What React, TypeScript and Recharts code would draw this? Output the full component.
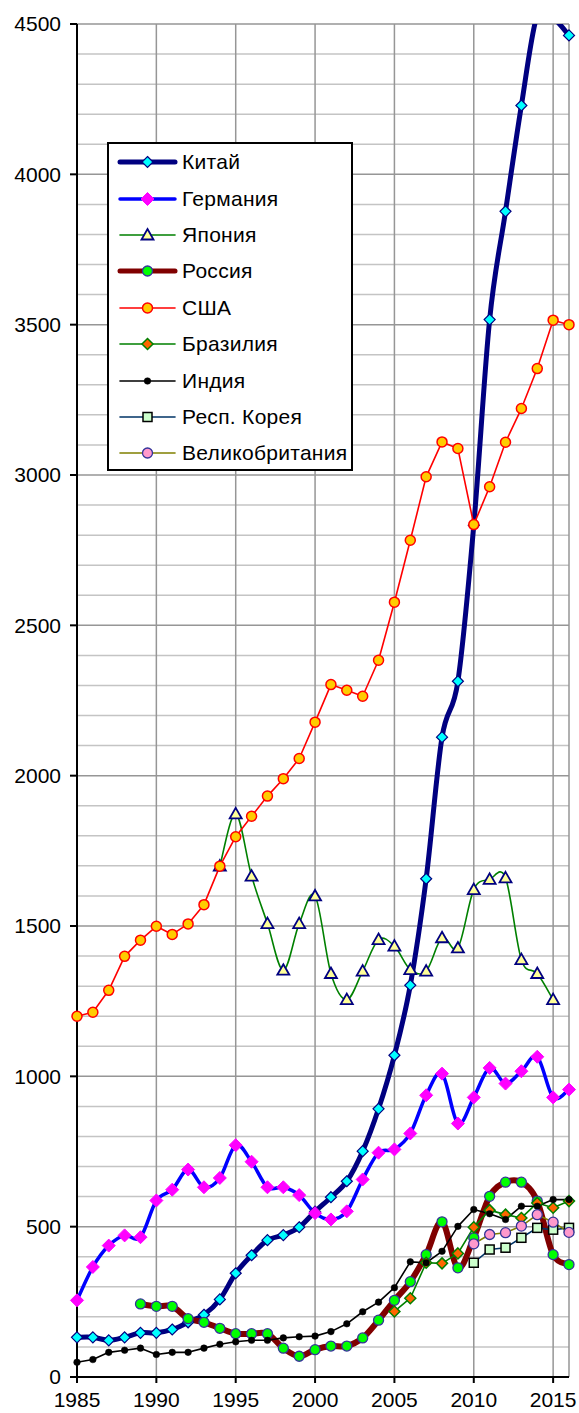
import { LineChart, Line, XAxis, YAxis, CartesianGrid, Legend } from 'recharts'

// production by country, thousands of units
const years = [
  1985, 1986, 1987, 1988, 1989, 1990, 1991, 1992, 1993, 1994, 1995, 1996, 1997, 1998, 1999, 2000,
  2001, 2002, 2003, 2004, 2005, 2006, 2007, 2008, 2009, 2010, 2011, 2012, 2013, 2014, 2015, 2016,
]
const china = [
  132, 132, 122, 132, 147, 147, 158, 182, 207, 258, 345, 405, 455, 472, 498, 550,
  598, 651, 751, 892, 1070, 1303, 1657, 2128, 2314, 2833, 3517, 3877, 4229, 4530, 4520, 4462,
]
const germany = [
  255, 366, 437, 471, 465, 587, 623, 690, 631, 662, 771, 716, 631, 631, 605, 545,
  524, 551, 657, 746, 757, 810, 937, 1009, 843, 930, 1028, 976, 1017, 1065, 930, 956,
]
const japan = [
  null, null, null, null, null, null, null, null, null, 1699, 1873, 1666, 1508, 1353, 1508, 1600,
  1342, 1255, 1350, 1455, 1433, 1355, 1350, 1461, 1427, 1621, 1655, 1660, 1388, 1342, 1255, null,
]
const russia = [
  null, null, null, null, 243, 235, 235, 194, 182, 162, 144, 144, 144, 96, 69, 91,
  103, 103, 130, 189, 255, 317, 407, 516, 363, 463, 601, 648, 648, 585, 407, 374,
]
const usa = [
  1200, 1213, 1286, 1399, 1453, 1499, 1472, 1507, 1571, 1699, 1797, 1865, 1932, 1990, 2057, 2178,
  2303, 2284, 2264, 2384, 2577, 2783, 2994, 3110, 3088, 2835, 2961, 3109, 3221, 3354, 3515, 3500,
]
const brazil = [
  null, null, null, null, null, null, null, null, null, null, null, null, null, null, null, null,
  null, null, null, null, 218, 262, 380, 378, 411, 498, 555, 540, 529, 579, 563, 585,
]
const india = [
  49, 58, 82, 89, 96, 75, 82, 82, 96, 109, 117, 122, 122, 130, 134, 136,
  151, 177, 217, 249, 297, 383, 380, 418, 501, 557, 543, 524, 568, 568, 590, 590,
]
const korea = [
  null, null, null, null, null, null, null, null, null, null, null, null, null, null, null, null,
  null, null, null, null, null, null, null, null, null, 380, 424, 430, 463, 496, 490, 496,
]
const uk = [
  null, null, null, null, null, null, null, null, null, null, null, null, null, null, null, null,
  null, null, null, null, null, null, null, null, null, 443, 474, 480, 502, 540, 515, 481,
]

const yTicks = [0, 500, 1000, 1500, 2000, 2500, 3000, 3500, 4000, 4500]
const xTicks = [1985, 1990, 1995, 2000, 2005, 2010, 2015]
const minorLines = [
  100, 200, 300, 400, 600, 700, 800, 900, 1100, 1200, 1300, 1400, 1600, 1700, 1800, 1900,
  2100, 2200, 2300, 2400, 2600, 2700, 2800, 2900, 3100, 3200, 3300, 3400, 3600, 3700, 3800, 3900,
  4100, 4200, 4300, 4400,
]
const verticalLines = [1990, 1995, 2000, 2005, 2010, 2015, 2016]

const FONT = '"Liberation Sans", Arial, sans-serif'

type Shape = 'diamond' | 'triangle' | 'circle' | 'square'

interface MarkerStyle {
  shape: Shape
  size: number
  fill: string
  stroke: string
  strokeWidth: number
}

interface SeriesDef {
  key: string
  name: string
  color: string
  width: number
  smooth: boolean
  marker: MarkerStyle
}

const SERIES: SeriesDef[] = [
  { key: 'china', name: 'Китай', color: '#000080', width: 5, smooth: true,
    marker: { shape: 'diamond', size: 5.5, fill: '#00FFFF', stroke: '#000080', strokeWidth: 1.2 } },
  { key: 'germany', name: 'Германия', color: '#0000FF', width: 3.5, smooth: true,
    marker: { shape: 'diamond', size: 6.5, fill: '#FF00FF', stroke: '#FF00FF', strokeWidth: 1 } },
  { key: 'japan', name: 'Япония', color: '#008000', width: 1.6, smooth: true,
    marker: { shape: 'triangle', size: 6, fill: '#FFFF99', stroke: '#000080', strokeWidth: 1.8 } },
  { key: 'russia', name: 'Россия', color: '#800000', width: 6, smooth: true,
    marker: { shape: 'circle', size: 5, fill: '#00FF00', stroke: '#333399', strokeWidth: 1.3 } },
  { key: 'usa', name: 'США', color: '#FF0000', width: 1.6, smooth: false,
    marker: { shape: 'circle', size: 5, fill: '#FFCC00', stroke: '#FF0000', strokeWidth: 1.5 } },
  { key: 'brazil', name: 'Бразилия', color: '#008000', width: 1.6, smooth: false,
    marker: { shape: 'diamond', size: 5.5, fill: '#FF6600', stroke: '#008000', strokeWidth: 1.5 } },
  { key: 'india', name: 'Индия', color: '#000000', width: 1.6, smooth: false,
    marker: { shape: 'circle', size: 3.3, fill: '#000000', stroke: '#000000', strokeWidth: 0.5 } },
  { key: 'korea', name: 'Респ. Корея', color: '#003366', width: 1.6, smooth: false,
    marker: { shape: 'square', size: 4.5, fill: '#CCFFCC', stroke: '#000000', strokeWidth: 1.5 } },
  { key: 'uk', name: 'Великобритания', color: '#808000', width: 1.6, smooth: false,
    marker: { shape: 'circle', size: 5, fill: '#FF99CC', stroke: '#333399', strokeWidth: 1.3 } },
]

const chartData = years.map((year, i) => ({
  year,
  china: china[i],
  chinaMarks: china[i] > 4500 ? null : china[i],
  germany: germany[i],
  japan: japan[i],
  russia: russia[i],
  usa: usa[i],
  brazil: brazil[i],
  india: india[i],
  korea: korea[i],
  uk: uk[i],
}))

// Excel-like smoothed line (Catmull-Rom through the points)
function excelSmooth(context: any) {
  let pts: [number, number][] = []
  return {
    areaStart() {},
    areaEnd() {},
    lineStart() {
      pts = []
    },
    lineEnd() {
      if (!pts.length) return
      context.moveTo(pts[0][0], pts[0][1])
      for (let i = 0; i < pts.length - 1; i++) {
        const p0 = pts[i - 1] || pts[i]
        const p1 = pts[i]
        const p2 = pts[i + 1]
        const p3 = pts[i + 2] || p2
        context.bezierCurveTo(
          p1[0] + (p2[0] - p0[0]) / 6,
          p1[1] + (p2[1] - p0[1]) / 6,
          p2[0] - (p3[0] - p1[0]) / 6,
          p2[1] - (p3[1] - p1[1]) / 6,
          p2[0],
          p2[1]
        )
      }
    },
    point(x: number, y: number) {
      pts.push([+x, +y])
    },
  }
}

function Marker({ cx, cy, m }: { cx: number; cy: number; m: MarkerStyle }) {
  const s = m.size
  if (m.shape === 'diamond') {
    return (
      <polygon
        points={`${cx},${cy - s} ${cx + s},${cy} ${cx},${cy + s} ${cx - s},${cy}`}
        fill={m.fill}
        stroke={m.stroke}
        strokeWidth={m.strokeWidth}
      />
    )
  }
  if (m.shape === 'triangle') {
    return (
      <polygon
        points={`${cx},${cy - s} ${cx + s},${cy + s * 0.75} ${cx - s},${cy + s * 0.75}`}
        fill={m.fill}
        stroke={m.stroke}
        strokeWidth={m.strokeWidth}
        strokeLinejoin="miter"
      />
    )
  }
  if (m.shape === 'square') {
    return (
      <rect x={cx - s} y={cy - s} width={s * 2} height={s * 2}
        fill={m.fill} stroke={m.stroke} strokeWidth={m.strokeWidth} />
    )
  }
  return <circle cx={cx} cy={cy} r={s} fill={m.fill} stroke={m.stroke} strokeWidth={m.strokeWidth} />
}

const makeDot = (m: MarkerStyle) => (props: any) => {
  const { cx, cy, index } = props
  if (cx == null || cy == null || Number.isNaN(cx) || Number.isNaN(cy)) {
    return <g key={`dot-${index}`} />
  }
  return (
    <g key={`dot-${index}`}>
      <Marker cx={cx} cy={cy} m={m} />
    </g>
  )
}

function LegendBox() {
  return (
    <div
      style={{
        boxSizing: 'border-box',
        width: 246,
        height: 329,
        border: '2px solid #000',
        background: '#fff',
        fontFamily: FONT,
        fontSize: 21,
        letterSpacing: 0.3,
        color: '#000',
      }}
    >
      {SERIES.map((s) => (
        <div key={s.key} style={{ height: 36.4, display: 'flex', alignItems: 'center' }}>
          <svg width={62} height={20} style={{ marginLeft: 8, marginRight: 3 }}>
            <line x1={3} y1={10} x2={58} y2={10} stroke={s.color}
              strokeWidth={Math.min(s.width, 5)} strokeLinecap="round" />
            <Marker cx={30.5} cy={10} m={s.marker} />
          </svg>
          <span style={{ whiteSpace: 'nowrap' }}>{s.name}</span>
        </div>
      ))}
    </div>
  )
}

const tickStyle = { fill: '#000', fontSize: 21, fontFamily: FONT }

export default function App() {
  return (
    <div style={{ position: 'absolute', left: 0, top: 0, background: '#fff' }}>
      <LineChart
        width={579}
        height={1413}
        data={chartData}
        margin={{ top: 24, right: 10, bottom: 0, left: 0 }}
      >
        <CartesianGrid vertical={false} horizontalValues={minorLines} stroke="#C4C4C4" strokeWidth={1.5} />
        <CartesianGrid horizontalValues={yTicks} verticalValues={verticalLines} stroke="#969696" strokeWidth={1.5} />
        <XAxis
          dataKey="year"
          type="number"
          domain={[1985, 2016]}
          ticks={xTicks}
          interval={0}
          height={36}
          tickSize={6}
          tickMargin={9}
          tick={tickStyle}
          axisLine={{ stroke: '#000', strokeWidth: 2 }}
          tickLine={{ stroke: '#000', strokeWidth: 2 }}
        />
        <YAxis
          type="number"
          domain={[0, 4500]}
          ticks={yTicks}
          interval={0}
          width={77}
          tickSize={7}
          tickMargin={9}
          tick={tickStyle}
          axisLine={{ stroke: '#000', strokeWidth: 2 }}
          tickLine={{ stroke: '#000', strokeWidth: 2 }}
        />
        <YAxis yAxisId="clip" hide type="number" domain={[0, 4500]} allowDataOverflow />
        <Line
          yAxisId="clip"
          dataKey="china"
          type={excelSmooth as any}
          stroke="#000080"
          strokeWidth={5}
          dot={false}
          activeDot={false}
          isAnimationActive={false}
          strokeLinejoin="round"
        />
        <Line
          dataKey="chinaMarks"
          stroke="none"
          strokeWidth={0}
          dot={makeDot(SERIES[0].marker)}
          activeDot={false}
          isAnimationActive={false}
          legendType="none"
        />
        {SERIES.slice(1).map((s) => (
          <Line
            key={s.key}
            dataKey={s.key}
            name={s.name}
            type={s.smooth ? (excelSmooth as any) : 'linear'}
            stroke={s.color}
            strokeWidth={s.width}
            strokeLinejoin="round"
            dot={makeDot(s.marker)}
            activeDot={false}
            isAnimationActive={false}
          />
        ))}
        <Legend
          layout="vertical"
          align="center"
          verticalAlign="middle"
          wrapperStyle={{ left: 107, top: 142, width: 246, height: 329 }}
          content={() => <LegendBox />}
        />
      </LineChart>
    </div>
  )
}
